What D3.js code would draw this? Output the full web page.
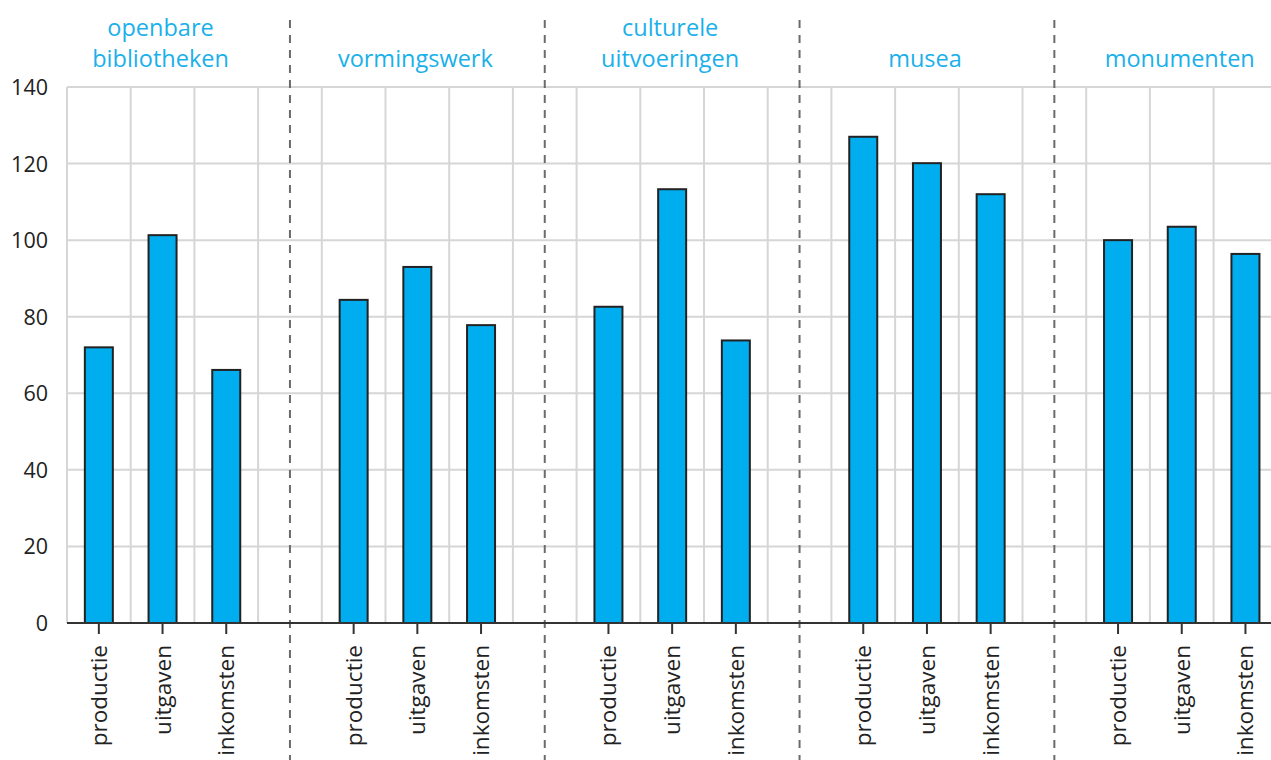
<!DOCTYPE html>
<html>
<head>
<meta charset="utf-8">
<script src="https://cdn.jsdelivr.net/npm/d3@7"></script>
<style>
  html, body { margin: 0; padding: 0; background: #fff; overflow: hidden; }
  svg { display: block; font-family: "Open Sans", Lato, sans-serif; }
</style>
</head>
<body>
<svg id="chart" width="1271" height="760"></svg>
<script>
const groups = [["openbare", "bibliotheken"], ["vormingswerk"], ["culturele", "uitvoeringen"], ["musea"], ["monumenten"]];
const measures = ["productie", "uitgaven", "inkomsten"];
const productie = [72, 84.4, 82.6, 127, 100];
const uitgaven = [101.3, 93, 113.3, 120.1, 103.5];
const inkomsten = [66.1, 77.8, 73.8, 112, 96.4];
const yTicks = [0, 20, 40, 60, 80, 100, 120, 140];

(function () {
const series = [productie, uitgaven, inkomsten];
const svg = d3.select("#chart");
const mLeft = 67, mTop = 87, mBottom = 623;
const slots = d3.range(groups.length * 4);
const x = d3.scaleBand().domain(slots).range([mLeft, mLeft + 63.7 * slots.length]).padding(0);
const y = d3.scaleLinear().domain([0, 140]).range([mBottom, mTop]);
const bw = 28;
const xRight = mLeft + 63.7 * slots.length;

// horizontal gridlines
svg.append("g").selectAll("line").data(yTicks.filter(d => d > 0)).join("line")
  .attr("x1", mLeft).attr("x2", xRight)
  .attr("y1", d => y(d)).attr("y2", d => y(d))
  .attr("stroke", "#d6d6d6").attr("stroke-width", 2);

// vertical gridlines at slot boundaries
svg.append("g").selectAll("line").data(slots).join("line")
  .attr("x1", d => x(d)).attr("x2", d => x(d))
  .attr("y1", mTop).attr("y2", mBottom)
  .attr("stroke", "#d6d6d6").attr("stroke-width", 2);

// dashed separators
svg.append("g").selectAll("line").data(d3.range(1, groups.length)).join("line")
  .attr("x1", g => x(g * 4 - 1) + x.bandwidth() / 2).attr("x2", g => x(g * 4 - 1) + x.bandwidth() / 2)
  .attr("y1", 20).attr("y2", 760)
  .attr("stroke", "#6b6b6b").attr("stroke-width", 2).attr("stroke-dasharray", "8,7");

// bars
const barData = [];
groups.forEach((g, gi) => measures.forEach((m, mi) => barData.push({gi, mi, v: series[mi][gi], slot: gi * 4 + mi})));
svg.append("g").selectAll("rect").data(barData).join("rect")
  .attr("x", d => x(d.slot) + x.bandwidth() / 2 - bw / 2)
  .attr("width", bw)
  .attr("y", d => y(d.v))
  .attr("height", d => y(0) - y(d.v))
  .attr("fill", "#00aeef").attr("stroke", "#222").attr("stroke-width", 2);

// x axis line
svg.append("line").attr("x1", mLeft).attr("x2", xRight).attr("y1", mBottom).attr("y2", mBottom)
  .attr("stroke", "#333").attr("stroke-width", 2);

// ticks & labels
const lab = svg.append("g").selectAll("g").data(barData).join("g")
  .attr("transform", d => `translate(${x(d.slot) + x.bandwidth() / 2},${mBottom})`);
lab.append("line").attr("y1", 0).attr("y2", 11).attr("stroke", "#333").attr("stroke-width", 2);
lab.append("text").text(d => measures[d.mi])
  .attr("transform", "translate(8,22) rotate(-90)")
  .attr("text-anchor", "end")
  .attr("font-size", 22.5).attr("fill", "#222");

// y labels
svg.append("g").selectAll("text").data(yTicks).join("text")
  .attr("x", 48).attr("y", d => y(d) + 8)
  .attr("text-anchor", "end")
  .attr("font-size", 21.5).attr("fill", "#222")
  .text(d => d);

// group titles
const tg = svg.append("g").selectAll("text").data(groups).join("text")
  .attr("text-anchor", "middle")
  .attr("font-size", 23.5).attr("fill", "#1ab0ea")
  .attr("x", (d, i) => x(i * 4 + 1) + x.bandwidth() / 2 - 2);
tg.each(function(d) {
  const t = d3.select(this);
  d.forEach((line, li) => {
    t.append("tspan").attr("x", t.attr("x")).attr("y", 67 - (d.length - 1 - li) * 31).text(line);
  });
});
})();
</script>
</body>
</html>
